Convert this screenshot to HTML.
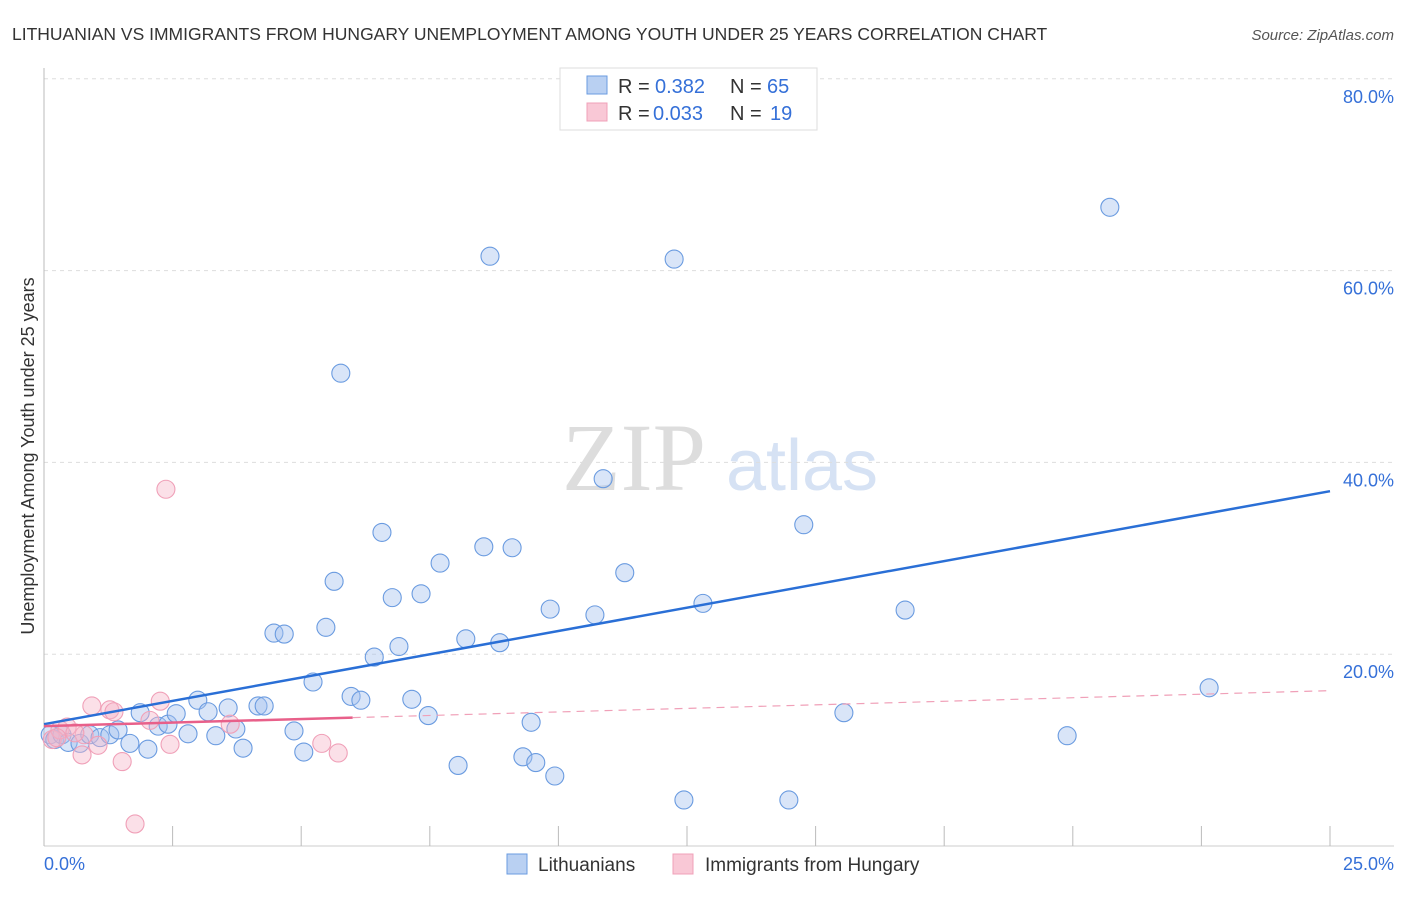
<!DOCTYPE html>
<html><head><meta charset="utf-8"><style>
body{margin:0;background:#fff;font-family:"Liberation Sans",sans-serif}
</style></head><body>
<svg id="c" width="1406" height="892" font-family="Liberation Sans, sans-serif">
<text x="12" y="40" font-size="17.5" fill="#333">LITHUANIAN VS IMMIGRANTS FROM HUNGARY UNEMPLOYMENT AMONG YOUTH UNDER 25 YEARS CORRELATION CHART</text>
<text x="1394" y="40" font-size="15" fill="#555" text-anchor="end" font-style="italic">Source: ZipAtlas.com</text>
<text x="634" y="490" font-size="96" fill="#ddd" style="font-family:'Liberation Serif',serif" text-anchor="middle">ZIP</text>
<text x="802" y="490" font-size="72" fill="#d6e2f4" text-anchor="middle">atlas</text>
<text transform="translate(34,456) rotate(-90)" font-size="18" fill="#333" text-anchor="middle">Unemployment Among Youth under 25 years</text>
<g id="grid"></g><g id="pts"></g><g id="lines"></g>
<g>
<rect x="560" y="68" width="257" height="62" fill="#fff" stroke="#ddd"/>
<rect x="587" y="76" width="20" height="18" fill="#b9d0f2" stroke="#6a9be0"/>
<rect x="587" y="103" width="20" height="18" fill="#f9c8d6" stroke="#f0a0b8"/>
<text y="93" font-size="20" fill="#333"><tspan x="618">R =</tspan><tspan x="655" fill="#3570d8">0.382</tspan><tspan x="730">N =</tspan><tspan x="767" fill="#3570d8">65</tspan></text>
<text y="120" font-size="20" fill="#333"><tspan x="618">R =</tspan><tspan x="653" fill="#3570d8">0.033</tspan><tspan x="730">N =</tspan><tspan x="770" fill="#3570d8">19</tspan></text>
</g>
<g>
<rect x="507" y="854" width="20" height="20" fill="#b9d0f2" stroke="#6a9be0"/>
<text x="538" y="871" font-size="19" fill="#333">Lithuanians</text>
<rect x="673" y="854" width="20" height="20" fill="#f9c8d6" stroke="#f0a0b8"/>
<text x="705" y="871" font-size="19" fill="#333">Immigrants from Hungary</text>
</g>
<text x="44" y="870" font-size="18" fill="#3570d8">0.0%</text>
<text x="1394" y="870" font-size="18" fill="#3570d8" text-anchor="end">25.0%</text>
</svg>
<script>
const blueX=[0.12,0.21,0.35,0.47,0.70,0.89,1.09,1.28,1.44,1.67,1.87,2.02,2.22,2.41,2.57,2.80,2.99,3.19,3.34,3.58,3.73,3.87,4.16,4.28,4.47,4.67,4.86,5.05,5.23,5.48,5.64,5.77,5.97,6.16,6.42,6.57,6.77,6.90,7.15,7.33,7.47,7.70,8.05,8.20,8.55,8.67,8.86,9.10,9.31,9.47,9.56,9.84,9.93,10.71,10.87,11.29,12.25,12.44,12.81,14.48,14.77,15.55,16.74,19.89,20.72,22.65];
const blueY=[11.6,11.1,11.6,10.8,10.7,11.6,11.3,11.6,12.1,10.7,13.9,10.1,12.5,12.7,13.8,11.7,15.2,14.0,11.5,14.4,12.2,10.2,14.6,14.6,22.2,22.1,12.0,9.8,17.1,22.8,27.6,49.3,15.6,15.2,19.7,32.7,25.9,20.8,15.3,26.3,13.6,29.5,8.4,21.6,31.2,61.5,21.2,31.1,9.3,12.9,8.7,24.7,7.3,24.1,38.3,28.5,61.2,4.8,25.3,4.8,33.5,13.9,24.6,11.5,66.6,16.5];
const pinkX=[0.16,0.31,0.45,0.78,0.93,1.05,1.28,1.36,1.52,1.77,2.06,2.26,2.37,2.45,3.62,5.40,5.72,0.25,0.60,0.74];
const pinkY=[11.1,12.1,12.4,11.6,14.6,10.5,14.2,14.0,8.8,2.3,13.1,15.1,37.2,10.6,12.7,10.7,9.7,11.3,11.8,9.5];
const yTicks=[20,40,60,80];
const xTicks=[0,2.5,5,7.5,10,12.5,15,17.5,20,22.5,25];
const blueTrend=[12.7,37.0];
const pinkTrend=[12.5,16.2];
const pinkSolidEnd=6.0;
const NS='http://www.w3.org/2000/svg';
const X=v=>44+v*51.44, Y=v=>846-v*9.59;
function mk(t,a,p){const e=document.createElementNS(NS,t);for(const k in a)e.setAttribute(k,a[k]);p.appendChild(e);return e;}
const grid=document.getElementById('grid'),pts=document.getElementById('pts'),lines=document.getElementById('lines');
yTicks.forEach(v=>{
 const l=mk('line',{x1:44,x2:1394,y1:Y(v),y2:Y(v),stroke:'#ddd','stroke-dasharray':'4,4'},grid);
 
 
 const t=mk('text',{x:1394,y:Y(v)+24,'font-size':18,fill:'#3570d8','text-anchor':'end'},grid);t.textContent=v.toFixed(1)+'%';
 
 
});
mk('line',{x1:44,x2:44,y1:68,y2:846,stroke:'#bbb'},grid);
mk('line',{x1:44,x2:1394,y1:846,y2:846,stroke:'#ccc'},grid);
xTicks.forEach(v=>{
 const l=mk('line',{x1:X(v),x2:X(v),y1:826,y2:846,stroke:'#bbb'},grid);
 
 
});
blueX.forEach((v,i)=>{
 const c=mk('circle',{cx:X(v),cy:Y(blueY[i]),r:9,fill:'rgba(164,194,238,0.42)',stroke:'#6a9be0','stroke-width':1.1},pts);
 
 
});
pinkX.forEach((v,i)=>{
 const c=mk('circle',{cx:X(v),cy:Y(pinkY[i]),r:9,fill:'rgba(245,180,200,0.42)',stroke:'#f0a0b8','stroke-width':1.1},pts);
 
 
});
const bl=mk('line',{x1:X(0),y1:Y(blueTrend[0]),x2:X(25),y2:Y(blueTrend[1]),stroke:'#2a6fd6','stroke-width':2.5},lines);


const pm=pinkTrend[0]+(pinkTrend[1]-pinkTrend[0])*pinkSolidEnd/25;
const pl=mk('line',{x1:X(0),y1:Y(pinkTrend[0]),x2:X(pinkSolidEnd),y2:Y(pm),stroke:'#e8608a','stroke-width':2.5},lines);


const pd=mk('line',{x1:X(pinkSolidEnd),y1:Y(pm),x2:X(25),y2:Y(pinkTrend[1]),stroke:'#f0a0b8','stroke-width':1.2,'stroke-dasharray':'8,6'},lines);


</script>
</body></html>
